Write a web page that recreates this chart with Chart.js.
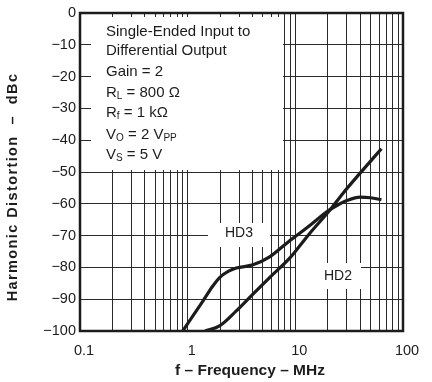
<!DOCTYPE html>
<html>
<head>
<meta charset="utf-8">
<script src="https://cdn.jsdelivr.net/npm/chart.js@4.4.1/dist/chart.umd.min.js"></script>
<style>
  body { margin: 0; background: #fff; }
  #wrap { width: 432px; height: 382px; }
</style>
</head>
<body>
<div id="wrap"><canvas id="chartHD" width="432" height="382"></canvas></div>
<script>
/* DATOS */
const hd3Freq = [0.9, 1.39, 1.7, 1.98, 2.4, 2.83, 4.04, 5.77, 8.86, 10, 14, 20, 25, 30, 40, 50, 63];
const hd3Db   = [-100, -90.5, -86, -83.2, -81.2, -80.2, -79.2, -76.7, -71.6, -70.3, -66.5, -62.3, -60.3, -59, -57.9, -58.1, -58.7];
const hd2Freq = [1.45, 1.98, 2.83, 4.04, 5.77, 8.86, 10.2, 14, 20.8, 28, 39.4, 63];
const hd2Db   = [-100, -98.4, -93.7, -88.4, -83.2, -77.1, -74.6, -68.8, -62.1, -56.5, -50.6, -42.7];
const xTicks  = [0.1, 0.2, 0.3, 0.4, 0.5, 0.6, 0.7, 0.8, 0.9,
                 1, 2, 3, 4, 5, 6, 7, 8, 9,
                 10, 20, 30, 40, 50, 60, 70, 80, 90, 100];
const xLabels = [0.1, 1, 10, 100];
const yTicks  = [0, -10, -20, -30, -40, -50, -60, -70, -80, -90, -100];

const FONT = '"Liberation Sans", Arial, sans-serif';
const INK = '#1c1c1c';

/* texto con subindices */
function drawRich(ctx, parts, x, y) {
  parts.forEach(([txt, sub]) => {
    ctx.font = (sub ? '10px ' : '15px ') + FONT;
    ctx.fillText(txt, x, sub ? y + 3 : y);
    x += ctx.measureText(txt).width;
  });
}

/* cajas blancas y textos */
const overlay = {
  id: 'overlay',
  beforeDatasetsDraw(chart) {
    const ctx = chart.ctx;
    ctx.save();
    ctx.fillStyle = '#fff';
    ctx.fillRect(91, 17, 192, 153);   // caja de condiciones
    ctx.fillRect(208, 223, 62, 24);   // HD3
    ctx.fillRect(296, 263, 65, 26);   // HD2
    ctx.restore();
  },
  afterDraw(chart) {
    const ctx = chart.ctx;
    const a = chart.chartArea;
    ctx.save();
    ctx.strokeStyle = INK;
    ctx.lineWidth = 2.5;
    ctx.strokeRect(a.left, a.top, a.right - a.left, a.bottom - a.top);

    ctx.fillStyle = INK;
    ctx.textBaseline = 'middle';
    ctx.textAlign = 'left';
    drawRich(ctx, [['Single-Ended Input to']], 106, 32);
    drawRich(ctx, [['Differential Output']], 106, 51);
    drawRich(ctx, [['Gain = 2']], 106, 72);
    drawRich(ctx, [['R'], ['L', 1], [' = 800 Ω']], 106, 93);
    drawRich(ctx, [['R'], ['f', 1], [' = 1 kΩ']], 106, 113);
    drawRich(ctx, [['V'], ['O', 1], [' = 2 V'], ['PP', 1]], 106, 135);
    drawRich(ctx, [['V'], ['S', 1], [' = 5 V']], 106, 155);

    ctx.textAlign = 'center';
    ctx.font = '14px ' + FONT;
    ctx.fillText('HD3', 239, 233);
    ctx.fillText('HD2', 338, 276);

    ctx.font = 'bold 15.5px ' + FONT;
    ctx.fillText('f – Frequency – MHz', 250, 371);
    ctx.font = 'bold 14.5px ' + FONT;
    ctx.letterSpacing = '1.4px';
    ctx.translate(13, 187);
    ctx.rotate(-Math.PI / 2);
    ctx.fillText('Harmonic Distortion  –  dBc', 0, 0);
    ctx.letterSpacing = '0px';
    ctx.restore();
  }
};

/* GRAFICA */
function renderChartHD() {
  const ctx = document.getElementById('chartHD').getContext('2d');
  const lineaBase = {
    borderColor: INK,
    borderWidth: 3.2,
    pointRadius: 0,
    fill: false,
    cubicInterpolationMode: 'monotone',
  };

  window.chartHD = new Chart(ctx, {
    type: 'line',
    data: {
      datasets: [
        { ...lineaBase, label: 'HD3', data: hd3Freq.map((f, i) => ({ x: f, y: hd3Db[i] })) },
        { ...lineaBase, label: 'HD2', data: hd2Freq.map((f, i) => ({ x: f, y: hd2Db[i] })) },
      ],
    },
    options: {
      responsive: false,
      animation: false,
      layout: { padding: { top: 13, right: 29, left: 0, bottom: 0 } },
      plugins: { legend: { display: false }, tooltip: { enabled: false } },
      scales: {
        x: {
          type: 'logarithmic',
          min: 0.1,
          max: 100,
          afterBuildTicks: s => { s.ticks = xTicks.map(v => ({ value: v })); },
          afterFit: s => { s.height = 51; },
          border: { display: false },
          grid: { color: '#2a2a2a', lineWidth: 1, drawTicks: false },
          ticks: {
            autoSkip: false,
            maxRotation: 0,
            padding: 11,
            labelOffset: 4,
            color: INK,
            font: { family: FONT, size: 14.5 },
            callback: v => (xLabels.includes(v) ? String(v) : ''),
          },
        },
        y: {
          min: -100,
          max: 0,
          afterBuildTicks: s => { s.ticks = yTicks.map(v => ({ value: v })); },
          afterFit: s => { s.width = 80; },
          border: { display: false },
          grid: { color: '#2a2a2a', lineWidth: 1, drawTicks: false },
          ticks: {
            padding: 4,
            color: INK,
            font: { family: FONT, size: 14.5 },
            callback: v => (v < 0 ? '−' + Math.abs(v) : String(v)),
          },
        },
      },
    },
    plugins: [overlay],
  });
}

renderChartHD();
</script>
</body>
</html>
